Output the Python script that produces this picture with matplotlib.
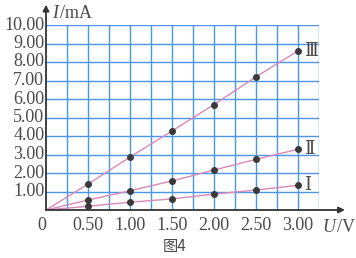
import matplotlib.pyplot as plt
import numpy as np

# Data (U in V, I in mA)
U = [0.50, 1.00, 1.50, 2.00, 2.50, 3.00]
I_1 = [0.20, 0.42, 0.60, 0.86, 1.08, 1.33]
I_2 = [0.54, 1.04, 1.57, 2.16, 2.74, 3.28]
I_3 = [1.40, 2.86, 4.27, 5.70, 7.20, 8.60]
series_names = ["Ⅰ", "Ⅱ", "Ⅲ"]
x_ticks = [0.50, 1.00, 1.50, 2.00, 2.50, 3.00]
y_ticks = [1.00, 2.00, 3.00, 4.00, 5.00, 6.00, 7.00, 8.00, 9.00, 10.00]

W, H = 356, 258
fig = plt.figure(figsize=(W / 100, H / 100), dpi=100)
ax = fig.add_axes([46 / W, (H - 210) / H, 273 / W, 185 / H])

grid_c = "#4a96ea"
text_c = "#4a4a4a"
serif = ["Liberation Serif", "DejaVu Serif"]

ax.set_xlim(0, 3.25)
ax.set_ylim(0, 10)

# blue grid paper
for gx in np.arange(0.25, 3.26, 0.25):
    ax.axvline(gx, color=grid_c, lw=1.0, zorder=1)
for gy in np.arange(1, 10.1, 1):
    ax.axhline(gy, color=grid_c, lw=1.0, zorder=1)

for s in ax.spines.values():
    s.set_visible(False)
ax.set_xticks([])
ax.set_yticks([])

# axes with arrows
ax.annotate("", xy=(1.095, 0), xytext=(0, 0), xycoords="axes fraction",
            arrowprops=dict(arrowstyle="-|>", color="#333333", lw=1.3,
                            mutation_scale=9, shrinkA=0, shrinkB=0),
            annotation_clip=False)
ax.annotate("", xy=(0, 1.11), xytext=(0, 0), xycoords="axes fraction",
            arrowprops=dict(arrowstyle="-|>", color="#333333", lw=1.3,
                            mutation_scale=9, shrinkA=0, shrinkB=0),
            annotation_clip=False)

# lines from origin and measured points
line_c = "#d889b8"
for ys, name in zip([I_1, I_2, I_3], series_names):
    ax.plot([0] + U, [0] + ys, color=line_c, lw=1.0, zorder=2, clip_on=False)
    ax.plot(U, ys, "o", color="#3a3a3a", ms=4, zorder=3, clip_on=False)
    ax.text(U[-1] + 0.07, ys[-1], name, fontsize=13, color=text_c,
            family=["DejaVu Serif", "Noto Sans CJK SC"], va="center", ha="left")

# tick labels
for yv in y_ticks:
    ax.text(-0.02, yv, f"{yv:.2f}", fontsize=13, color=text_c, family=serif,
            ha="right", va="center", clip_on=False)
for xv in x_ticks:
    ax.text(xv, -0.85, f"{xv:.2f}", fontsize=13, color=text_c, family=serif,
            ha="center", va="center", clip_on=False)
ax.text(-0.05, -0.85, "0", fontsize=13, color=text_c, family=serif,
        ha="center", va="center", clip_on=False)

# axis names: italic quantity symbol + upright unit
fig.text(52 / W, 1 - 13 / H, "I", fontsize=13, color=text_c,
         family=serif, style="italic", ha="left", va="center")
fig.text(60 / W, 1 - 13 / H, "/mA", fontsize=13, color=text_c,
         family=serif, ha="left", va="center")
fig.text(322 / W, 1 - 227 / H, "U", fontsize=13, color=text_c,
         family=serif, style="italic", ha="left", va="center")
fig.text(337 / W, 1 - 227 / H, "/V", fontsize=13, color=text_c,
         family=serif, ha="left", va="center")

fig.text(175 / W, 1 - 247 / H, "图4", fontsize=11, color=text_c,
         family=["Noto Sans CJK SC", "DejaVu Sans"], ha="center", va="center")

fig.savefig("out.png", dpi=100)
